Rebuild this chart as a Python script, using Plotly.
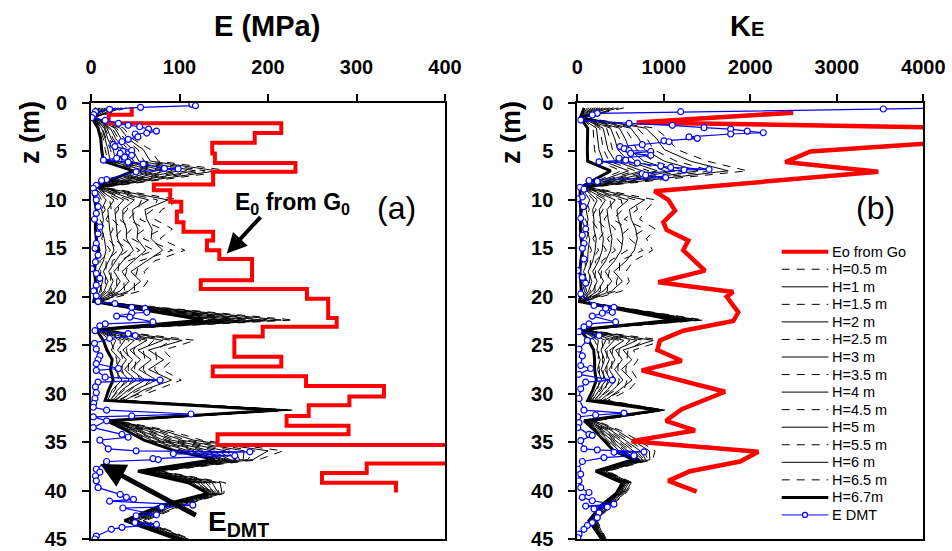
import plotly.graph_objects as go

# ---------------------------------------------------------------------------
# Depth grid (m) for the moduli back-calculated with different drainage lengths H
Z_H = [0.5, 1.5, 2.6, 3.7, 4.8, 6.0, 7.0, 8.7, 10.0, 11.0, 12.0, 13.0, 14.0, 15.2,
       16.3, 17.4, 18.4, 19.4, 20.5, 22.4, 23.4, 24.5, 25.5, 26.5, 27.5, 28.6,
       29.6, 30.7, 31.7, 32.8, 33.8, 34.8, 35.9, 36.8, 38.0, 39.2, 40.3, 41.5,
       43.1, 45.5]

H_LABELS = ["H=0.5 m", "H=1 m", "H=1.5 m", "H=2 m", "H=2.5 m", "H=3 m", "H=3.5 m",
            "H=4 m", "H=4.5 m", "H=5 m", "H=5.5 m", "H=6 m", "H=6.5 m", "H=6.7m"]

# E (MPa) for each H
E_H05 = [40, 5, 37, 47, 67, 76, 157, 14, 100, 80, 72, 92, 78, 106, 72, 60, 64, 56, 9, 229, 14, 118, 82, 92, 80, 102, 74, 42, 228, 30, 88, 125, 217, 190, 80, 152, 150, 105, 62, 125]
E_H10 = [35, 4, 33, 42, 59, 67, 142, 12, 87, 61, 63, 69, 68, 81, 63, 45, 56, 43, 8, 215, 13, 103, 65, 82, 65, 91, 60, 38, 226, 28, 81, 116, 200, 183, 76, 146, 148, 102, 59, 123]
E_H15 = [31, 4, 29, 38, 53, 60, 129, 11, 75, 70, 55, 80, 59, 92, 55, 52, 49, 49, 7, 202, 12, 91, 73, 74, 72, 82, 66, 35, 223, 27, 76, 108, 185, 177, 73, 141, 145, 98, 56, 122]
E_H20 = [28, 4, 27, 34, 47, 54, 118, 10, 65, 47, 48, 53, 52, 62, 48, 35, 43, 33, 7, 192, 11, 81, 53, 68, 54, 74, 50, 33, 222, 26, 71, 102, 173, 172, 70, 137, 144, 96, 53, 120]
E_H25 = [25, 3, 24, 31, 42, 48, 108, 9, 57, 53, 42, 61, 46, 71, 42, 40, 37, 38, 6, 183, 10, 71, 59, 61, 59, 67, 55, 30, 220, 25, 66, 96, 162, 168, 68, 133, 142, 94, 51, 119]
E_H30 = [22, 3, 22, 28, 38, 43, 99, 8, 49, 36, 36, 40, 40, 48, 36, 26, 33, 26, 6, 175, 10, 63, 44, 56, 45, 61, 42, 28, 218, 24, 63, 91, 152, 164, 66, 130, 140, 92, 49, 118]
E_H35 = [20, 3, 20, 25, 34, 39, 92, 7, 42, 41, 32, 46, 35, 55, 32, 30, 29, 29, 5, 168, 9, 56, 48, 51, 49, 56, 45, 26, 217, 23, 59, 86, 144, 160, 64, 127, 139, 90, 48, 117]
E_H40 = [18, 2, 18, 23, 31, 35, 85, 7, 37, 27, 28, 29, 30, 36, 28, 20, 25, 20, 5, 162, 9, 49, 36, 47, 38, 51, 35, 25, 216, 22, 56, 82, 136, 157, 62, 124, 138, 88, 46, 116]
E_H45 = [16, 2, 16, 21, 27, 31, 79, 6, 31, 31, 24, 35, 26, 42, 24, 23, 22, 23, 5, 156, 8, 43, 40, 43, 42, 47, 38, 23, 215, 21, 53, 78, 129, 154, 61, 122, 137, 87, 45, 116]
E_H50 = [14, 2, 15, 19, 25, 28, 73, 6, 26, 19, 20, 21, 23, 26, 20, 14, 19, 15, 4, 150, 8, 38, 30, 40, 32, 43, 30, 22, 214, 21, 51, 75, 123, 152, 59, 120, 136, 86, 44, 115]
E_H55 = [12, 2, 13, 17, 22, 25, 68, 5, 21, 23, 17, 25, 19, 31, 17, 17, 16, 17, 4, 145, 7, 33, 33, 36, 35, 39, 32, 21, 213, 20, 49, 72, 117, 149, 58, 118, 135, 84, 42, 114]
E_H60 = [10, 2, 12, 16, 19, 22, 62, 4, 17, 12, 14, 12, 15, 17, 14, 8, 13, 10, 4, 140, 7, 28, 23, 33, 27, 35, 24, 19, 212, 20, 46, 68, 111, 146, 56, 115, 134, 83, 41, 114]
E_H65 = [9, 1, 10, 14, 16, 19, 57, 4, 12, 16, 10, 16, 12, 22, 10, 11, 10, 12, 3, 135, 7, 22, 26, 29, 30, 31, 27, 18, 211, 19, 44, 65, 105, 144, 55, 113, 133, 82, 40, 113]
E_H67 = [6, 1, 8, 11, 12, 14, 48, 3, 4, 6, 5, 5, 6, 9, 5, 4, 5, 6, 3, 127, 6, 14, 18, 24, 22, 25, 20, 16, 210, 18, 40, 60, 95, 140, 53, 110, 132, 80, 38, 112]

# K_E for each H
K_H05 = [540, 60, 900, 1050, 1150, 1500, 1965, 150, 900, 800, 720, 900, 800, 870, 650, 560, 600, 520, 70, 1465, 80, 1000, 650, 700, 620, 700, 600, 350, 1010, 220, 500, 700, 900, 870, 350, 640, 560, 400, 230, 360]
K_H10 = [476, 57, 791, 919, 1005, 1307, 1744, 134, 778, 602, 624, 675, 694, 659, 565, 422, 522, 397, 64, 1416, 73, 878, 530, 630, 511, 633, 491, 318, 1001, 200, 458, 644, 833, 839, 331, 623, 545, 383, 217, 354]
K_H15 = [420, 54, 697, 807, 881, 1141, 1554, 120, 674, 694, 542, 779, 604, 757, 491, 486, 454, 454, 58, 1375, 67, 774, 586, 570, 561, 575, 541, 290, 993, 184, 422, 596, 775, 813, 314, 609, 531, 369, 205, 350]
K_H20 = [374, 51, 619, 713, 778, 1003, 1397, 109, 587, 458, 473, 511, 528, 506, 430, 322, 398, 306, 54, 1340, 62, 687, 443, 520, 431, 527, 411, 267, 987, 170, 392, 556, 727, 791, 301, 597, 520, 357, 196, 346]
K_H25 = [333, 49, 549, 629, 685, 879, 1254, 98, 509, 526, 412, 589, 460, 578, 376, 369, 348, 349, 50, 1309, 58, 609, 484, 475, 469, 484, 449, 247, 981, 157, 365, 520, 684, 771, 288, 586, 511, 346, 187, 342]
K_H30 = [296, 47, 487, 554, 602, 769, 1128, 89, 439, 344, 357, 381, 400, 384, 327, 242, 303, 235, 46, 1281, 54, 539, 374, 435, 368, 446, 348, 228, 976, 146, 341, 488, 646, 753, 277, 576, 502, 336, 180, 339]
K_H35 = [264, 45, 432, 489, 530, 672, 1018, 81, 378, 397, 309, 442, 347, 441, 284, 279, 264, 268, 43, 1257, 50, 478, 406, 400, 397, 412, 377, 212, 971, 136, 320, 460, 612, 738, 268, 568, 494, 328, 173, 336]
K_H40 = [236, 44, 385, 433, 468, 589, 923, 74, 326, 253, 268, 277, 302, 287, 247, 178, 230, 178, 40, 1236, 47, 426, 319, 370, 318, 383, 298, 198, 967, 128, 302, 436, 583, 725, 260, 561, 487, 321, 167, 334]
K_H45 = [209, 42, 338, 377, 406, 506, 828, 67, 274, 298, 227, 329, 256, 335, 211, 210, 197, 207, 38, 1215, 44, 374, 346, 340, 343, 354, 323, 184, 963, 119, 284, 412, 554, 712, 251, 554, 481, 314, 162, 331]
K_H50 = [186, 41, 299, 330, 354, 437, 749, 61, 230, 177, 193, 191, 219, 206, 180, 125, 169, 131, 35, 1198, 42, 330, 273, 315, 276, 330, 256, 173, 960, 112, 269, 392, 530, 701, 245, 548, 475, 308, 157, 329]
K_H55 = [163, 40, 260, 283, 302, 368, 670, 56, 187, 215, 158, 234, 181, 246, 150, 152, 141, 154, 33, 1180, 39, 287, 296, 290, 297, 306, 277, 161, 957, 105, 254, 372, 506, 690, 238, 542, 470, 302, 152, 327]
K_H60 = [140, 38, 221, 237, 250, 299, 591, 50, 143, 101, 124, 104, 143, 125, 119, 72, 113, 83, 31, 1163, 37, 243, 227, 265, 234, 282, 214, 150, 953, 98, 239, 352, 482, 679, 231, 536, 464, 296, 147, 325]
K_H65 = [117, 37, 182, 190, 199, 230, 512, 44, 100, 139, 90, 147, 105, 165, 89, 99, 85, 107, 29, 1146, 34, 200, 250, 240, 255, 258, 235, 138, 950, 91, 224, 332, 458, 668, 224, 530, 459, 290, 143, 323]
K_H67 = [80, 35, 120, 115, 116, 120, 386, 35, 30, 40, 35, 35, 45, 60, 40, 30, 40, 45, 25, 1118, 30, 130, 190, 200, 200, 220, 180, 120, 945, 80, 200, 300, 420, 650, 213, 520, 450, 280, 135, 320]

# E0 from G0: layered profile (layer tops, m) and the modulus of each layer (MPa)
Z_E0_TOP = [0.4, 1.2, 2.1, 3.1, 4.1, 5.2, 6.2, 7.1, 8.4, 9.0, 10.2, 11.2, 12.3, 13.3,
            14.2, 15.2, 16.1, 18.3, 19.2, 20.2, 22.2, 23.1, 24.1, 26.2, 27.2, 28.2,
            29.2, 30.3, 31.2, 32.3, 33.3, 34.2, 35.3, 37.2, 38.2, 39.2]
Z_E0_END = 40.2
E0 = [46, 20, 215, 185, 137, 140, 231, 138, 71, 89.5, 102, 97, 104.5, 138, 131, 145,
      182, 124, 244, 268, 277.6, 194, 162, 215, 137.6, 243, 331, 292, 246, 221, 291,
      143, 420, 311.5, 261, 344.6]

# K_E of E0 from G0
Z_KE0 = [1.0, 2.0, 3.0, 4.0, 5.0, 6.1, 7.1, 9.1, 10.0, 11.1, 12.3, 13.1, 14.2, 15.2,
         17.3, 18.5, 19.5, 20.0, 21.6, 22.5, 23.5, 24.5, 25.5, 26.6, 27.6, 29.8,
         31.6, 32.8, 33.8, 34.9, 36.0, 37.0, 38.0, 39.0, 40.1]
KE0 = [2497, 687, 7300, 4330, 2695, 2404, 3480, 890, 1052, 1130, 994, 1033, 1283,
       1225, 1476, 936, 1803, 1727, 1861, 1803, 1225, 956, 925, 1207, 745, 1708,
       1207, 1025, 1361, 629, 2093, 1881, 1303, 1052, 1380]

# DMT moduli
Z_DMT = [0.14, 0.28, 0.45, 0.65, 0.9, 1.2, 1.5, 1.8, 2.1, 2.3, 2.45, 2.7, 2.9, 3.1,
         3.2, 3.5, 3.75, 4.0, 4.3, 4.5, 4.9, 5.0, 5.2, 5.4, 5.6, 5.7, 5.9, 6.1, 6.3,
         6.75, 6.8, 7.1, 7.9, 8.0, 8.5, 8.8, 9.3, 10.0, 10.7, 11.4, 12.0, 12.8, 13.5,
         14.5, 15.0, 15.7, 16.4, 17.1, 17.6, 18.1, 18.8, 19.4, 19.9, 20.5, 20.7, 21.1,
         21.2, 21.6, 21.7, 22.0, 22.1, 22.6, 22.8, 23.0, 23.5, 23.8, 24.0, 24.3, 24.8,
         25.4, 26.1, 26.5, 26.9, 27.4, 27.6, 28.3, 28.6, 28.8, 29.3, 29.9, 30.5, 31.0,
         31.4, 31.7, 32.1, 32.3, 32.4, 32.8, 33.5, 34.2, 34.5, 34.8, 35.7, 35.9, 36.0,
         36.2, 36.4, 36.7, 36.8, 37.0, 37.8, 38.1, 38.5, 39.0, 39.7, 40.4, 40.7, 40.9,
         41.1, 41.5, 41.7, 41.8, 42.5, 42.6, 43.3, 43.5, 43.8, 44.0, 44.7, 45.0]
E_DMT = [114, 118, 56, 21, 5, 3, 1, 16, 31, 42, 55, 65, 74, 63, 50, 53, 42, 35, 25,
         27, 46, 36, 33, 46, 38, 29, 14, 42, 59, 83, 98.5, 51, 17.6, 12, 6, 2.6, 4.5, 6,
         8, 6, 4, 10, 8, 6, 4.5, 8, 5, 0.7, 6, 10, 6, 3, 6, 8, 27, 46, 61, 63, 46, 29,
         44, 70, 16, 10, 4.5, 42, 50, 21, 4, 6, 10, 8, 6, 31, 6, 16, 78, 8, 5, 6, 4.5,
         3, 2.6, 17.6, 113, 46, 2.6, 17.6, 2.6, 35, 42, 10, 19.5, 51, 179.5, 93, 162.5,
         70, 76, 17.6, 6, 10, 5, 6, 8, 33, 40, 48, 21, 115, 80, 36, 74, 51, 49.6, 74, 35,
         23, 6, 4.5]

Z_KDMT = [0.45, 0.62, 0.9, 1.07, 1.24, 1.76, 2.1, 2.3, 2.55, 2.7, 2.9, 3.07, 3.2, 3.5,
          3.65, 3.9, 4.0, 4.3, 4.5, 4.7, 4.9, 5.0, 5.2, 5.4, 5.7, 5.9, 6.07, 6.2, 6.5,
          6.65, 6.86, 6.9, 7.3, 7.45, 7.7, 8.0, 8.1, 8.7, 8.9, 9.7, 9.9, 10.7, 11.9,
          13.0, 13.65, 14.5, 15.0, 16.1, 17.3, 18.0, 18.6, 19.7, 20.9, 21.1, 21.2, 21.6,
          21.7, 22.0, 22.6, 22.8, 23.1, 23.6, 24.0, 24.5, 25.4, 26.1, 27.1, 27.4, 28.0,
          28.6, 28.8, 29.5, 30.5, 31.7, 32.0, 32.2, 32.4, 33.0, 33.5, 34.2, 34.3, 34.85,
          35.7, 35.8, 36.0, 36.05, 36.4, 36.6, 37.0, 37.8, 38.3, 39.0, 39.7, 40.2, 40.7,
          41.05, 41.4, 41.6, 41.7, 41.9, 42.3, 42.8, 43.3, 43.6, 44.0, 44.5, 44.85]
K_DMT = [4800, 3538, 1195, 231, 173, 39, 598, 1098, 1465, 1773, 1965, 2150, 1773, 1291,
         1387, 1002, 1060, 751, 494, 540, 598, 849, 617, 849, 482, 559, 251, 694, 964,
         1080, 1523, 1234, 751, 790, 1022, 135, 231, 31, 77, 58, 0, 69, 39, 97, 58, 77,
         58, 77, 5, 58, 97, 39, 193, 424, 328, 405, 289, 173, 443, 135, 77, 20, 251, 116,
         20, 58, 39, 154, 20, 405, 97, 39, 20, 77, 540, 212, 5, 20, 5, 135, 173, 39, 77,
         231, 771, 424, 655, 308, 58, 5, 39, 20, 39, 135, 58, 173, 424, 97, 347, 193,
         251, 231, 173, 116, 77, 20, 5]

LEGEND_LABELS = ["Eo from Go"] + H_LABELS + ["E DMT"]

# ---------------------------------------------------------------------------
FONT = "Liberation Sans, Arial, Helvetica, sans-serif"
RED = "#ff0000"
BLUE = "#0000ff"
E_SERIES = [E_H05, E_H10, E_H15, E_H20, E_H25, E_H30, E_H35, E_H40, E_H45, E_H50,
            E_H55, E_H60, E_H65, E_H67]
K_SERIES = [K_H05, K_H10, K_H15, K_H20, K_H25, K_H30, K_H35, K_H40, K_H45, K_H50,
            K_H55, K_H60, K_H65, K_H67]


def h_style(i):
    if i == len(H_LABELS) - 1:
        return dict(color="black", width=3, dash="solid")
    if i % 2 == 0:
        return dict(color="black", width=1, dash="8px,7px")
    return dict(color="black", width=1, dash="solid")


fig = go.Figure()

for i, label in enumerate(H_LABELS):
    fig.add_trace(go.Scatter(x=E_SERIES[i], y=Z_H, mode="lines", line=h_style(i),
                             name=label, xaxis="x", yaxis="y", hoverinfo="skip"))
    fig.add_trace(go.Scatter(x=K_SERIES[i], y=Z_H, mode="lines", line=h_style(i),
                             name=label, xaxis="x2", yaxis="y2", hoverinfo="skip"))

# stepped E0 profile
fig.add_trace(go.Scatter(x=E0 + [E0[-1]], y=Z_E0_TOP + [Z_E0_END], mode="lines",
                         line=dict(color=RED, width=4, shape="vh"),
                         name="Eo from Go", xaxis="x", yaxis="y"))
fig.add_trace(go.Scatter(x=KE0, y=Z_KE0, mode="lines",
                         line=dict(color=RED, width=4.5),
                         name="Eo from Go", xaxis="x2", yaxis="y2"))

dmt_marker = dict(symbol="circle", size=6, color="white",
                  line=dict(color=BLUE, width=1.2))
fig.add_trace(go.Scatter(x=E_DMT, y=Z_DMT, mode="lines+markers",
                         line=dict(color=BLUE, width=1.2), marker=dmt_marker,
                         name="E DMT", xaxis="x", yaxis="y"))
fig.add_trace(go.Scatter(x=K_DMT, y=Z_KDMT, mode="lines+markers",
                         line=dict(color=BLUE, width=1.2), marker=dmt_marker,
                         name="E DMT", xaxis="x2", yaxis="y2"))

W, H = 952, 551


def px(x):
    return x / W


def py(y):
    return 1 - y / H


tick_font = dict(family=FONT, size=20, color="black", weight="bold")
common_x = dict(side="top", ticks="outside", ticklen=7, tickwidth=1.5,
                tickcolor="black", showline=True, linecolor="black", linewidth=2,
                mirror=True, showgrid=False, zeroline=False, tickfont=tick_font,
                ticklabelstandoff=12, automargin=False)
common_y = dict(autorange=False, range=[45, 0], dtick=5, ticks="outside", ticklen=7,
                tickwidth=1.5, tickcolor="black", showline=True, linecolor="black",
                linewidth=2, mirror=True, showgrid=False, zeroline=False,
                tickfont=tick_font, ticklabelstandoff=11, automargin=False)

fig.update_layout(
    width=W, height=H,
    margin=dict(l=0, r=0, t=0, b=0, autoexpand=False),
    paper_bgcolor="white", plot_bgcolor="white",
    showlegend=False,
    xaxis=dict(domain=[px(91), px(445)], range=[0, 400], dtick=100, anchor="y",
               **common_x),
    yaxis=dict(domain=[py(539), py(103)], anchor="x", **common_y),
    xaxis2=dict(domain=[px(577.3), px(923.3)], range=[0, 4000], dtick=1000,
                anchor="y2", **common_x),
    yaxis2=dict(domain=[py(539), py(103)], anchor="x2", **common_y),
)


def note(text, x, y, size, bold=False, angle=0):
    if bold:
        text = "<b>" + text + "</b>"
    return dict(text=text, x=px(x), y=py(y), xref="paper", yref="paper",
                xanchor="center", yanchor="middle", showarrow=False,
                textangle=angle, font=dict(family=FONT, size=size, color="black"))


ann = [
    note("E (MPa)", 267, 26, 29, bold=True),
    note("K<span style='font-size:20px'>E</span>", 747, 26, 29, bold=True),
    note("z (m)", 30, 133, 27, bold=True, angle=-90),
    note("z (m)", 511, 133, 27, bold=True, angle=-90),
    note("E<sub>0</sub> from G<sub>0</sub>", 292.5, 203, 23, bold=True),
    note("(a)", 396, 208, 32),
    note("(b)", 875, 208, 32),
    note("E<sub>DMT</sub>", 238, 523, 28, bold=True),
    dict(text="", x=153.5, y=15.54, xref="x", yref="y", ax=35, ay=-38,
         showarrow=True, arrowhead=2, arrowsize=1, arrowwidth=4, arrowcolor="black"),
    dict(text="", x=10.5, y=37.26, xref="x", yref="y", ax=97, ay=52,
         showarrow=True, arrowhead=2, arrowsize=1, arrowwidth=5, arrowcolor="black"),
]

# legend block inside panel (b): sample line + label per row
shapes = []
row0, row_gap = 251.7, 17.55
x0, x1 = 781.7, 828.3
for r, label in enumerate(LEGEND_LABELS):
    yc = row0 + r * row_gap
    if r == 0:
        style = dict(color=RED, width=4)
    elif r == len(LEGEND_LABELS) - 1:
        style = dict(color=BLUE, width=1)
    else:
        style = h_style(r - 1)
    shapes.append(dict(type="line", xref="paper", yref="paper", x0=px(x0), x1=px(x1),
                       y0=py(yc), y1=py(yc), line=style))
    if r == len(LEGEND_LABELS) - 1:
        xm = (x0 + x1) / 2
        shapes.append(dict(type="circle", xref="paper", yref="paper",
                           x0=px(xm - 2.5), x1=px(xm + 2.5), y0=py(yc + 2.5),
                           y1=py(yc - 2.5), fillcolor="white",
                           line=dict(color=BLUE, width=1.2)))
    ann.append(dict(text=label, x=px(830), y=py(yc), xref="paper", yref="paper",
                    xanchor="left", yanchor="middle", showarrow=False,
                    font=dict(family=FONT, size=14.5, color="black")))

fig.update_layout(annotations=ann, shapes=shapes)

fig.write_html("out.html")
